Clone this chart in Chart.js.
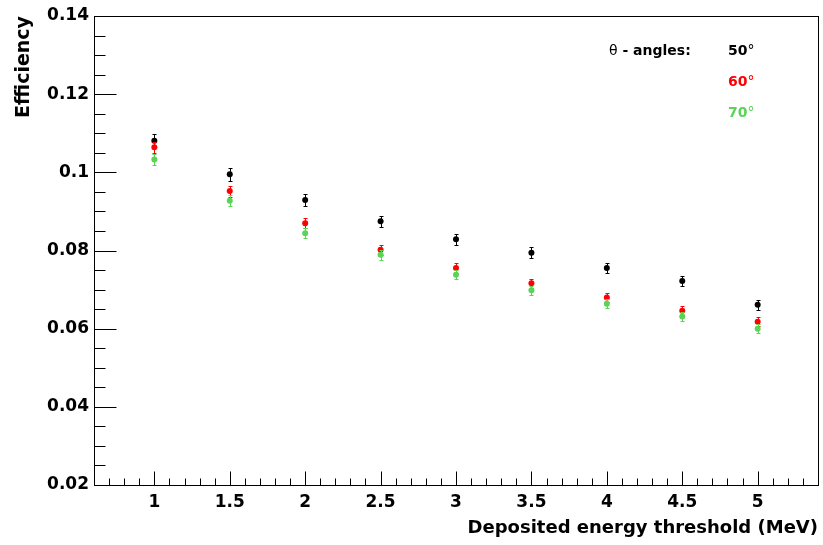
<!DOCTYPE html>
<html>
<head>
<meta charset="utf-8">
<script src="https://cdn.jsdelivr.net/npm/chart.js@4.4.1/dist/chart.umd.min.js"></script>
<style>
  html, body { margin: 0; padding: 0; background: #fff; }
  #wrap { width: 823px; height: 545px; }
</style>
</head>
<body>
<div id="wrap"><canvas id="eff" width="823" height="545"></canvas></div>
<script>
// deposited energy thresholds (MeV)
const thresholds = [1, 1.5, 2, 2.5, 3, 3.5, 4, 4.5, 5];

// efficiency vs threshold, one series per theta angle (value, error)
const eff50 = [0.1081, 0.0995, 0.0929, 0.0875, 0.0829, 0.0794, 0.0755, 0.0722, 0.0661];
const err50 = [0.0016, 0.0016, 0.0015, 0.0014, 0.0014, 0.0014, 0.0013, 0.0013, 0.0013];
const eff60 = [0.1064, 0.0952, 0.0870, 0.0802, 0.0755, 0.0716, 0.0680, 0.0646, 0.0618];
const err60 = [0.0014, 0.0014, 0.0013, 0.0013, 0.0012, 0.0012, 0.0012, 0.0012, 0.0012];
const eff70 = [0.1033, 0.0927, 0.0844, 0.0789, 0.0738, 0.0698, 0.0664, 0.0631, 0.0600];
const err70 = [0.0014, 0.0014, 0.0013, 0.0013, 0.0012, 0.0012, 0.0012, 0.0012, 0.0012];

const angleLabels = ['50', '60', '70'];
const angleColors = ['#000000', '#ff0000', '#59d454'];

const xTicks = [1, 1.5, 2, 2.5, 3, 3.5, 4, 4.5, 5];
const xTickLabels = ['1', '1.5', '2', '2.5', '3', '3.5', '4', '4.5', '5'];
const yTicks = [0.02, 0.04, 0.06, 0.08, 0.1, 0.12, 0.14];
const yTickLabels = ['0.02', '0.04', '0.06', '0.08', '0.1', '0.12', '0.14'];

const FONT = "'DejaVu Sans', sans-serif";

const pts = (ys) => thresholds.map((x, i) => ({ x: x, y: ys[i] }));

// vertical error bars with small caps, drawn under each dataset's markers
const errorBars = {
  id: 'errorBars',
  beforeDatasetDraw(chart, args) {
    const ds = chart.data.datasets[args.index];
    const ys = chart.scales.y;
    const ctx = chart.ctx;
    ctx.save();
    ctx.strokeStyle = ds.backgroundColor;
    ctx.lineWidth = 1;
    args.meta.data.forEach((pt, i) => {
      const v = ds.data[i].y, e = ds.errors[i];
      const top = Math.round(ys.getPixelForValue(v + e)) + 0.5;
      const bot = Math.round(ys.getPixelForValue(v - e)) + 0.5;
      const x = Math.round(pt.x) + 0.5;
      ctx.beginPath();
      ctx.moveTo(x, top); ctx.lineTo(x, bot);
      ctx.moveTo(x - 2, top); ctx.lineTo(x + 2, top);
      ctx.moveTo(x - 2, bot); ctx.lineTo(x + 2, bot);
      ctx.stroke();
    });
    ctx.restore();
  }
};

// closed frame with inward ticks on the bottom and left axes
const frame = {
  id: 'frame',
  beforeDatasetsDraw(chart) {
    const { ctx, chartArea: a, scales } = chart;
    const xs = scales.x, ys = scales.y;
    ctx.save();
    ctx.strokeStyle = '#000';
    ctx.lineWidth = 1;
    ctx.strokeRect(Math.round(a.left) + 0.5, Math.round(a.top) + 0.5,
      Math.round(a.right - a.left), Math.round(a.bottom - a.top));
    ctx.beginPath();
    const yb = Math.round(a.bottom) + 0.5;
    for (let k = Math.round(xs.min * 10); k <= Math.round(xs.max * 10); k++) {
      const v = k / 10;
      const major = k % 5 === 0;
      const px = Math.round(xs.getPixelForValue(v)) + 0.5;
      ctx.moveTo(px, yb);
      ctx.lineTo(px, yb - (major ? 14 : 7));
    }
    const xl = Math.round(a.left) + 0.5;
    for (let k = Math.round(ys.min * 1000); k <= Math.round(ys.max * 1000); k += 5) {
      const major = k % 20 === 0;
      const py = Math.round(ys.getPixelForValue(k / 1000)) + 0.5;
      ctx.moveTo(xl, py);
      ctx.lineTo(xl + (major ? 22 : 11), py);
    }
    ctx.stroke();
    ctx.restore();
  }
};

// "θ - angles:" key in the upper right corner
const angleKey = {
  id: 'angleKey',
  afterDraw(chart) {
    const ctx = chart.ctx;
    ctx.save();
    ctx.textBaseline = 'alphabetic';
    ctx.textAlign = 'left';
    ctx.fillStyle = '#000';
    ctx.font = '14px ' + FONT;
    ctx.fillText('θ', 609, 55);
    const tw = ctx.measureText('θ').width;
    ctx.font = 'bold 14px ' + FONT;
    ctx.fillText(' - angles:', 609 + tw, 55);
    const rows = [55, 86, 116.5];
    angleLabels.forEach((lab, i) => {
      ctx.fillStyle = angleColors[i];
      ctx.font = 'bold 14px ' + FONT;
      ctx.fillText(lab, 728, rows[i]);
      const w = ctx.measureText(lab).width;
      ctx.font = '14px ' + FONT;
      ctx.fillText('°', 728 + w, rows[i]);
    });
    ctx.restore();
  }
};

const series = (label, ys, errs, color, order) => ({
  label: label, data: pts(ys), errors: errs, order: order,
  backgroundColor: color, borderColor: color, borderWidth: 0,
  pointRadius: 3, pointHoverRadius: 3, showLine: false
});

new Chart(document.getElementById('eff'), {
  type: 'scatter',
  data: {
    datasets: [
      series('50°', eff50, err50, angleColors[0], 2),
      series('60°', eff60, err60, angleColors[1], 1),
      series('70°', eff70, err70, angleColors[2], 0)
    ]
  },
  options: {
    responsive: false, animation: false, devicePixelRatio: 1,
    layout: { padding: { left: 0, right: 5, top: 16, bottom: 0 } },
    plugins: { legend: { display: false }, tooltip: { enabled: false } },
    scales: {
      x: {
        type: 'linear', min: 0.6, max: 5.4,
        grid: { display: false, drawTicks: false }, border: { display: false },
        afterBuildTicks: (s) => { s.ticks = xTicks.map((v) => ({ value: v })); },
        afterFit: (s) => { s.height = 60; },
        ticks: { color: '#000', padding: 7, maxRotation: 0, autoSkip: false,
          font: { family: FONT, size: 17, weight: 'bold' }, callback: (v, i) => xTickLabels[i] },
        title: { display: true, text: 'Deposited energy threshold (MeV)', align: 'end', color: '#000',
          font: { family: FONT, size: 18, weight: 'bold' }, padding: { top: 0, bottom: 6 } }
      },
      y: {
        type: 'linear', min: 0.02, max: 0.14,
        grid: { display: false, drawTicks: false }, border: { display: false },
        afterBuildTicks: (s) => { s.ticks = yTicks.map((v) => ({ value: v })); },
        afterFit: (s) => { s.width = 94; },
        ticks: { color: '#000', padding: 5, autoSkip: false,
          font: { family: FONT, size: 17, weight: 'bold' }, callback: (v, i) => yTickLabels[i] },
        title: { display: true, text: 'Efficiency', align: 'end', color: '#000',
          font: { family: FONT, size: 19, weight: 'bold' }, padding: { top: 13, bottom: 0 } }
      }
    }
  },
  plugins: [errorBars, frame, angleKey]
});
</script>
</body>
</html>
